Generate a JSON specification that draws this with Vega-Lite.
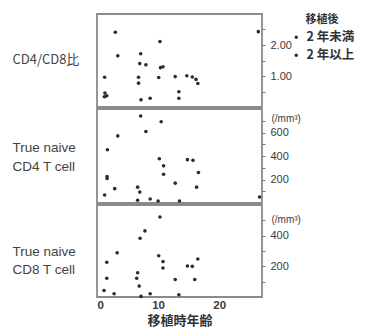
{
  "$schema": "https://vega.github.io/schema/vega-lite/v6.json",
  "background": "#ffffff",
  "padding": {"left": 11, "top": 13, "right": 0, "bottom": 0},
  "spacing": 0,
  "config": {
    "view": {"stroke": "#8a8a8a", "strokeWidth": 1.8},
    "font": "Liberation Sans",
    "axis": {"labelFont": "Liberation Sans", "labelColor": "#3a3a3a", "labelFontSize": 11, "domain": false, "grid": false, "tickColor": "#777", "tickSize": 3, "labelPadding": 5}
  },
  "datasets": {
    "cd4cd8": [
      {"age": 3.0, "v": 2.41, "g": "2 年未満"}, {"age": 26.4, "v": 2.43, "g": "2 年未満"},
      {"age": 10.3, "v": 2.11, "g": "2 年未満"}, {"age": 3.4, "v": 1.65, "g": "2 年未満"},
      {"age": 7.15, "v": 1.72, "g": "2 年未満"}, {"age": 7.0, "v": 1.40, "g": "2 年未満"},
      {"age": 8.0, "v": 1.36, "g": "2 年未満"}, {"age": 10.4, "v": 1.27, "g": "2 年未満"},
      {"age": 10.8, "v": 1.30, "g": "2 年未満"}, {"age": 1.25, "v": 0.96, "g": "2 年未満"},
      {"age": 6.8, "v": 0.96, "g": "2 年未満"}, {"age": 6.8, "v": 0.77, "g": "2 年未満"},
      {"age": 10.1, "v": 0.95, "g": "2 年未満"}, {"age": 12.8, "v": 0.98, "g": "2 年未満"},
      {"age": 14.7, "v": 1.01, "g": "2 年未満"}, {"age": 15.6, "v": 0.97, "g": "2 年未満"},
      {"age": 16.2, "v": 0.89, "g": "2 年未満"}, {"age": 16.5, "v": 0.76, "g": "2 年未満"},
      {"age": 13.4, "v": 0.49, "g": "2 年未満"}, {"age": 13.4, "v": 0.28, "g": "2 年未満"},
      {"age": 1.3, "v": 0.45, "g": "2 年未満"}, {"age": 1.2, "v": 0.33, "g": "2 年未満"},
      {"age": 1.6, "v": 0.36, "g": "2 年未満"}, {"age": 7.2, "v": 0.23, "g": "2 年未満"},
      {"age": 8.7, "v": 0.28, "g": "2 年未満"}
    ],
    "cd4": [
      {"age": 7.15, "v": 740, "g": "2 年未満"}, {"age": 10.5, "v": 692, "g": "2 年未満"},
      {"age": 8.0, "v": 608, "g": "2 年未満"}, {"age": 3.4, "v": 571, "g": "2 年未満"},
      {"age": 1.7, "v": 453, "g": "2 年未満"}, {"age": 10.2, "v": 377, "g": "2 年未満"},
      {"age": 14.8, "v": 369, "g": "2 年未満"}, {"age": 15.7, "v": 363, "g": "2 年未満"},
      {"age": 10.9, "v": 316, "g": "2 年未満"}, {"age": 10.9, "v": 245, "g": "2 年未満"},
      {"age": 16.6, "v": 259, "g": "2 年未満"}, {"age": 1.65, "v": 225, "g": "2 年未満"},
      {"age": 1.65, "v": 208, "g": "2 年未満"}, {"age": 12.8, "v": 169, "g": "2 年未満"},
      {"age": 2.9, "v": 122, "g": "2 年未満"}, {"age": 6.65, "v": 135, "g": "2 年未満"},
      {"age": 7.0, "v": 93, "g": "2 年未満"}, {"age": 16.3, "v": 135, "g": "2 年未満"},
      {"age": 1.25, "v": 68, "g": "2 年未満"}, {"age": 6.65, "v": 23, "g": "2 年未満"},
      {"age": 8.7, "v": 34, "g": "2 年未満"}, {"age": 10.0, "v": 17, "g": "2 年未満"},
      {"age": 13.5, "v": 17, "g": "2 年未満"}, {"age": 26.6, "v": 51, "g": "2 年未満"}
    ],
    "cd8": [
      {"age": 10.3, "v": 522, "g": "2 年未満"}, {"age": 7.85, "v": 431, "g": "2 年未満"},
      {"age": 7.05, "v": 383, "g": "2 年未満"}, {"age": 3.3, "v": 288, "g": "2 年未満"},
      {"age": 10.1, "v": 269, "g": "2 年未満"}, {"age": 1.6, "v": 227, "g": "2 年未満"},
      {"age": 10.8, "v": 231, "g": "2 年未満"}, {"age": 16.5, "v": 248, "g": "2 年未満"},
      {"age": 10.8, "v": 189, "g": "2 年未満"}, {"age": 14.8, "v": 202, "g": "2 年未満"},
      {"age": 15.6, "v": 200, "g": "2 年未満"}, {"age": 6.65, "v": 158, "g": "2 年未満"},
      {"age": 1.6, "v": 122, "g": "2 年未満"}, {"age": 6.5, "v": 122, "g": "2 年未満"},
      {"age": 12.8, "v": 114, "g": "2 年未満"}, {"age": 16.0, "v": 114, "g": "2 年未満"},
      {"age": 6.9, "v": 71, "g": "2 年未満"}, {"age": 1.15, "v": 42, "g": "2 年未満"},
      {"age": 2.8, "v": 21, "g": "2 年未満"}, {"age": 7.2, "v": 4, "g": "2 年未満"},
      {"age": 8.7, "v": 21, "g": "2 年未満"}, {"age": 13.4, "v": 15, "g": "2 年未満"}
    ]
  },
  "vconcat": [
    {
      "width": 165, "height": 93,
      "data": {"name": "cd4cd8"},
      "layer": [
        {
          "mark": {"type": "circle", "size": 13, "opacity": 1},
          "encoding": {
            "x": {"field": "age", "type": "quantitative", "scale": {"domain": [0, 27], "nice": false}, "axis": null},
            "y": {"field": "v", "type": "quantitative", "scale": {"domain": [0, 3], "nice": false},
              "axis": {"orient": "right", "values": [0.5, 1, 1.5, 2, 2.5], "labelExpr": "datum.value % 1 == 0 ? format(datum.value, '.2f') : ''", "title": null}},
            "color": {"field": "g", "type": "nominal", "scale": {"domain": ["2 年未満", "2 年以上"], "range": ["#2b2b2b", "#2b2b2b"]},
              "legend": {"title": "移植後", "orient": "none", "legendX": 193, "legendY": 0, "titleFont": "Noto Sans CJK JP", "titleFontSize": 11, "titleFontWeight": "bold", "titleColor": "#333", "titleAlign": "center", "titleAnchor": "middle", "titlePadding": 6,
                "labelFont": "Noto Sans CJK JP", "labelFontSize": 12.5, "labelColor": "#333", "labelFontWeight": "bold", "symbolSize": 12, "symbolType": "circle", "labelOffset": 4, "rowPadding": 5, "symbolStrokeWidth": 0}}
          }
        },
        {
          "mark": {"type": "circle", "size": 0, "opacity": 0},
          "encoding": {
            "x": {"field": "age", "type": "quantitative", "scale": {"domain": [0, 27], "nice": false}, "axis": null},
            "y": {"field": "v", "type": "quantitative", "scale": {"domain": [0, 3], "nice": false},
              "axis": {"orient": "left", "labels": false, "ticks": false, "title": "CD4/CD8比", "titleAngle": 0, "titleAlign": "left", "titleBaseline": "middle", "titleX": -85, "titleY": 45, "titleFont": "Noto Sans CJK JP", "titleFontSize": 13, "titleFontWeight": "normal", "titleColor": "#444"}}
          }
        }
      ],
      "resolve": {"axis": {"y": "independent"}}
    },
    {
      "width": 165, "height": 94,
      "data": {"name": "cd4"},
      "layer": [
        {
          "mark": {"type": "circle", "size": 13, "opacity": 1},
          "encoding": {
            "x": {"field": "age", "type": "quantitative", "scale": {"domain": [0, 27], "nice": false}, "axis": null},
            "y": {"field": "v", "type": "quantitative", "scale": {"domain": [0, 800], "nice": false},
              "axis": {"orient": "right", "values": [100, 200, 300, 400, 500, 600, 700], "labelExpr": "datum.value % 200 == 0 ? datum.label : ''", "title": "(/mm³)", "titleAngle": 0, "titleAlign": "left", "titleBaseline": "middle", "titleX": 9, "titleY": 9, "titleFontSize": 10, "titleFontWeight": "normal", "titleColor": "#3a3a3a"}},
            "color": {"field": "g", "type": "nominal", "scale": {"domain": ["2 年未満", "2 年以上"], "range": ["#2b2b2b", "#2b2b2b"]}, "legend": null}
          }
        },
        {
          "mark": {"type": "circle", "size": 0, "opacity": 0},
          "encoding": {
            "x": {"field": "age", "type": "quantitative", "scale": {"domain": [0, 27], "nice": false}, "axis": null},
            "y": {"field": "v", "type": "quantitative", "scale": {"domain": [0, 800], "nice": false},
              "axis": {"orient": "left", "labels": false, "ticks": false, "title": ["True naive", "CD4 T cell"], "titleAngle": 0, "titleAlign": "left", "titleBaseline": "middle", "titleLineHeight": 19, "titleX": -85, "titleY": 38, "titleFont": "Liberation Sans", "titleFontSize": 13.5, "titleFontWeight": "normal", "titleColor": "#444"}}
          }
        }
      ],
      "resolve": {"axis": {"y": "independent"}}
    },
    {
      "width": 165, "height": 92,
      "data": {"name": "cd8"},
      "layer": [
        {
          "mark": {"type": "circle", "size": 13, "opacity": 1},
          "encoding": {
            "x": {"field": "age", "type": "quantitative", "scale": {"domain": [0, 27], "nice": false},
              "axis": {"values": [0, 10, 20], "tickSize": 0, "labelPadding": 2, "labelFontSize": 11.5, "labelFontWeight": "bold", "title": "移植時年齢", "titleFont": "Noto Sans CJK JP", "titleFontSize": 13, "titleFontWeight": "bold", "titleColor": "#333", "titlePadding": 4}},
            "y": {"field": "v", "type": "quantitative", "scale": {"domain": [0, 600], "nice": false},
              "axis": {"orient": "right", "values": [100, 200, 300, 400, 500], "labelExpr": "datum.value % 200 == 0 ? datum.label : ''", "title": "(/mm³)", "titleAngle": 0, "titleAlign": "left", "titleBaseline": "middle", "titleX": 9, "titleY": 14, "titleFontSize": 10, "titleFontWeight": "normal", "titleColor": "#3a3a3a"}},
            "color": {"field": "g", "type": "nominal", "scale": {"domain": ["2 年未満", "2 年以上"], "range": ["#2b2b2b", "#2b2b2b"]}, "legend": null}
          }
        },
        {
          "mark": {"type": "circle", "size": 0, "opacity": 0},
          "encoding": {
            "x": {"field": "age", "type": "quantitative", "scale": {"domain": [0, 27], "nice": false}},
            "y": {"field": "v", "type": "quantitative", "scale": {"domain": [0, 600], "nice": false},
              "axis": {"orient": "left", "labels": false, "ticks": false, "title": ["True naive", "CD8 T cell"], "titleAngle": 0, "titleAlign": "left", "titleBaseline": "middle", "titleLineHeight": 18, "titleX": -85, "titleY": 46, "titleFont": "Liberation Sans", "titleFontSize": 13.5, "titleFontWeight": "normal", "titleColor": "#444"}}
          }
        }
      ],
      "resolve": {"axis": {"y": "independent"}}
    }
  ]
}
